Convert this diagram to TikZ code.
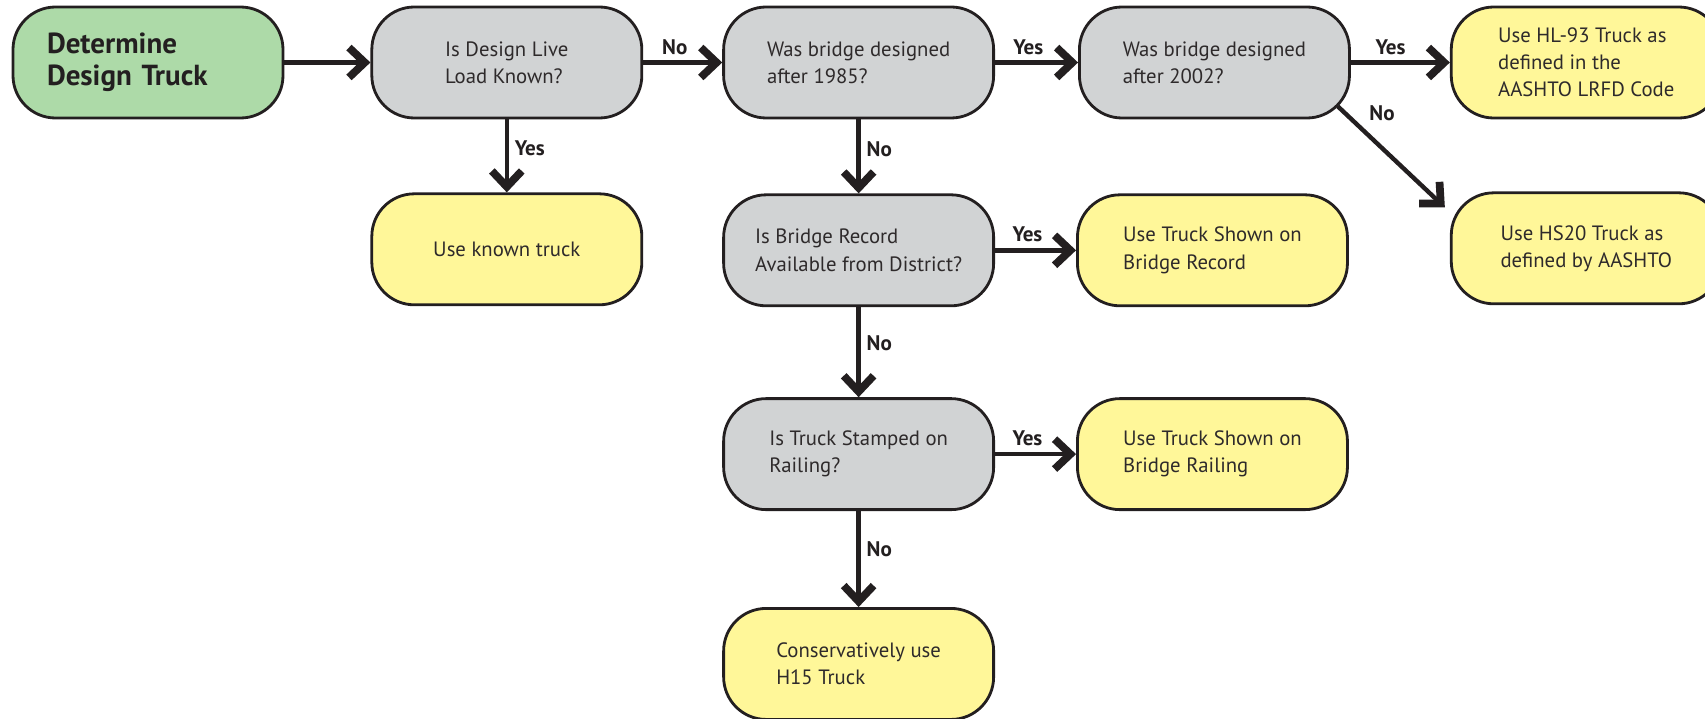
\documentclass[tikz,border=0pt]{standalone}
\usepackage{fontspec}
\setmainfont{PT Sans}
\usepackage{xcolor}
\usetikzlibrary{arrows.meta,positioning,calc}
\definecolor{qgray}{HTML}{D1D3D4}
\definecolor{ayellow}{HTML}{FFF799}
\definecolor{sgreen}{HTML}{ADDAA8}
\definecolor{ink}{HTML}{231F20}

\begin{document}
\begin{tikzpicture}[node distance=1.7cm, font=\fontsize{11.8}{15.4}\selectfont, >={Straight Barb[length=9pt,width=17pt,line width=4.4pt]}]
\tikzstyle{mod}=[draw=ink, line width=1.6pt, rounded corners=0.85cm, minimum width=5.4cm, minimum height=2.22cm, align=left, text=ink!95]
\tikzstyle{arr}=[->, draw=ink, line width=2.5pt]
\tikzstyle{lbl}=[font=\fontsize{12}{15}\selectfont\bfseries, text=ink]
\useasboundingbox (0,0) rectangle (34.1,-14.38);
% first row
\node[mod, fill=sgreen, text width=4.04cm, text=ink, font=\fontsize{16.5}{18.5}\selectfont\bfseries] (start) at (2.96,-1.25) {Determine\\Design Truck};
\node[mod, fill=qgray, right=1.72cm of start] (q1) {Is Design Live\\Load Known?};
\node[mod, fill=qgray, right=1.58cm of q1] (q2) {Was bridge designed\\after 1985?};
\node[mod, fill=qgray, right=1.66cm of q2] (q3) {Was bridge designed\\after 2002?};
\node[mod, fill=ayellow, right=1.98cm of q3] (hl93) {Use HL-93 Truck as\\defined in the\\AASHTO LRFD Code};
\node[mod, fill=ayellow, below=1.44cm of hl93] (hs20) {Use HS20 Truck as\\defined by AASHTO};
% lower rows
\node[mod, fill=ayellow, below=1.46cm of q1] (known) {Use known truck};
\node[mod, fill=qgray, below=1.48cm of q2] (q4) {Is Bridge Record\\Available from District?};
\node[mod, fill=ayellow, right=1.62cm of q4] (rec) {Use Truck Shown on\\Bridge Record};
\node[mod, fill=qgray, below=1.8cm of q4] (q5) {Is Truck Stamped on\\Railing?};
\node[mod, fill=ayellow, right=1.62cm of q5] (rail) {Use Truck Shown on\\Bridge Railing};
\node[mod, fill=ayellow, below=1.92cm of q5] (cons) {Conservatively use\\H15 Truck};
\coordinate (q3out) at ($(q3.south east)+(-0.26,0.26)$);
\coordinate (hsin) at ($(hs20.north west)+(-0.1,-0.32)$);
% connectors
\draw[arr] (start) -- (q1);
\draw[arr] (q1) -- node[lbl, above, pos=0.4]{No} (q2);
\draw[arr] (q1) -- node[lbl, right, pos=0.4]{Yes} (known);
\draw[arr] (q2) -- node[lbl, above, pos=0.4]{Yes} (q3);
\draw[arr] (q2) -- node[lbl, right, pos=0.4]{No} (q4);
\draw[arr] (q3) -- node[lbl, above, pos=0.4]{Yes} (hl93);
\draw[arr] (q3out) -- node[lbl, above right, pos=0.22]{No} (hsin);
\draw[arr] (q4) -- node[lbl, above, pos=0.4]{Yes} (rec);
\draw[arr] (q4) -- node[lbl, right, pos=0.4]{No} (q5);
\draw[arr] (q5) -- node[lbl, above, pos=0.4]{Yes} (rail);
\draw[arr] (q5) -- node[lbl, right, pos=0.4]{No} (cons);
\end{tikzpicture}
\end{document}
